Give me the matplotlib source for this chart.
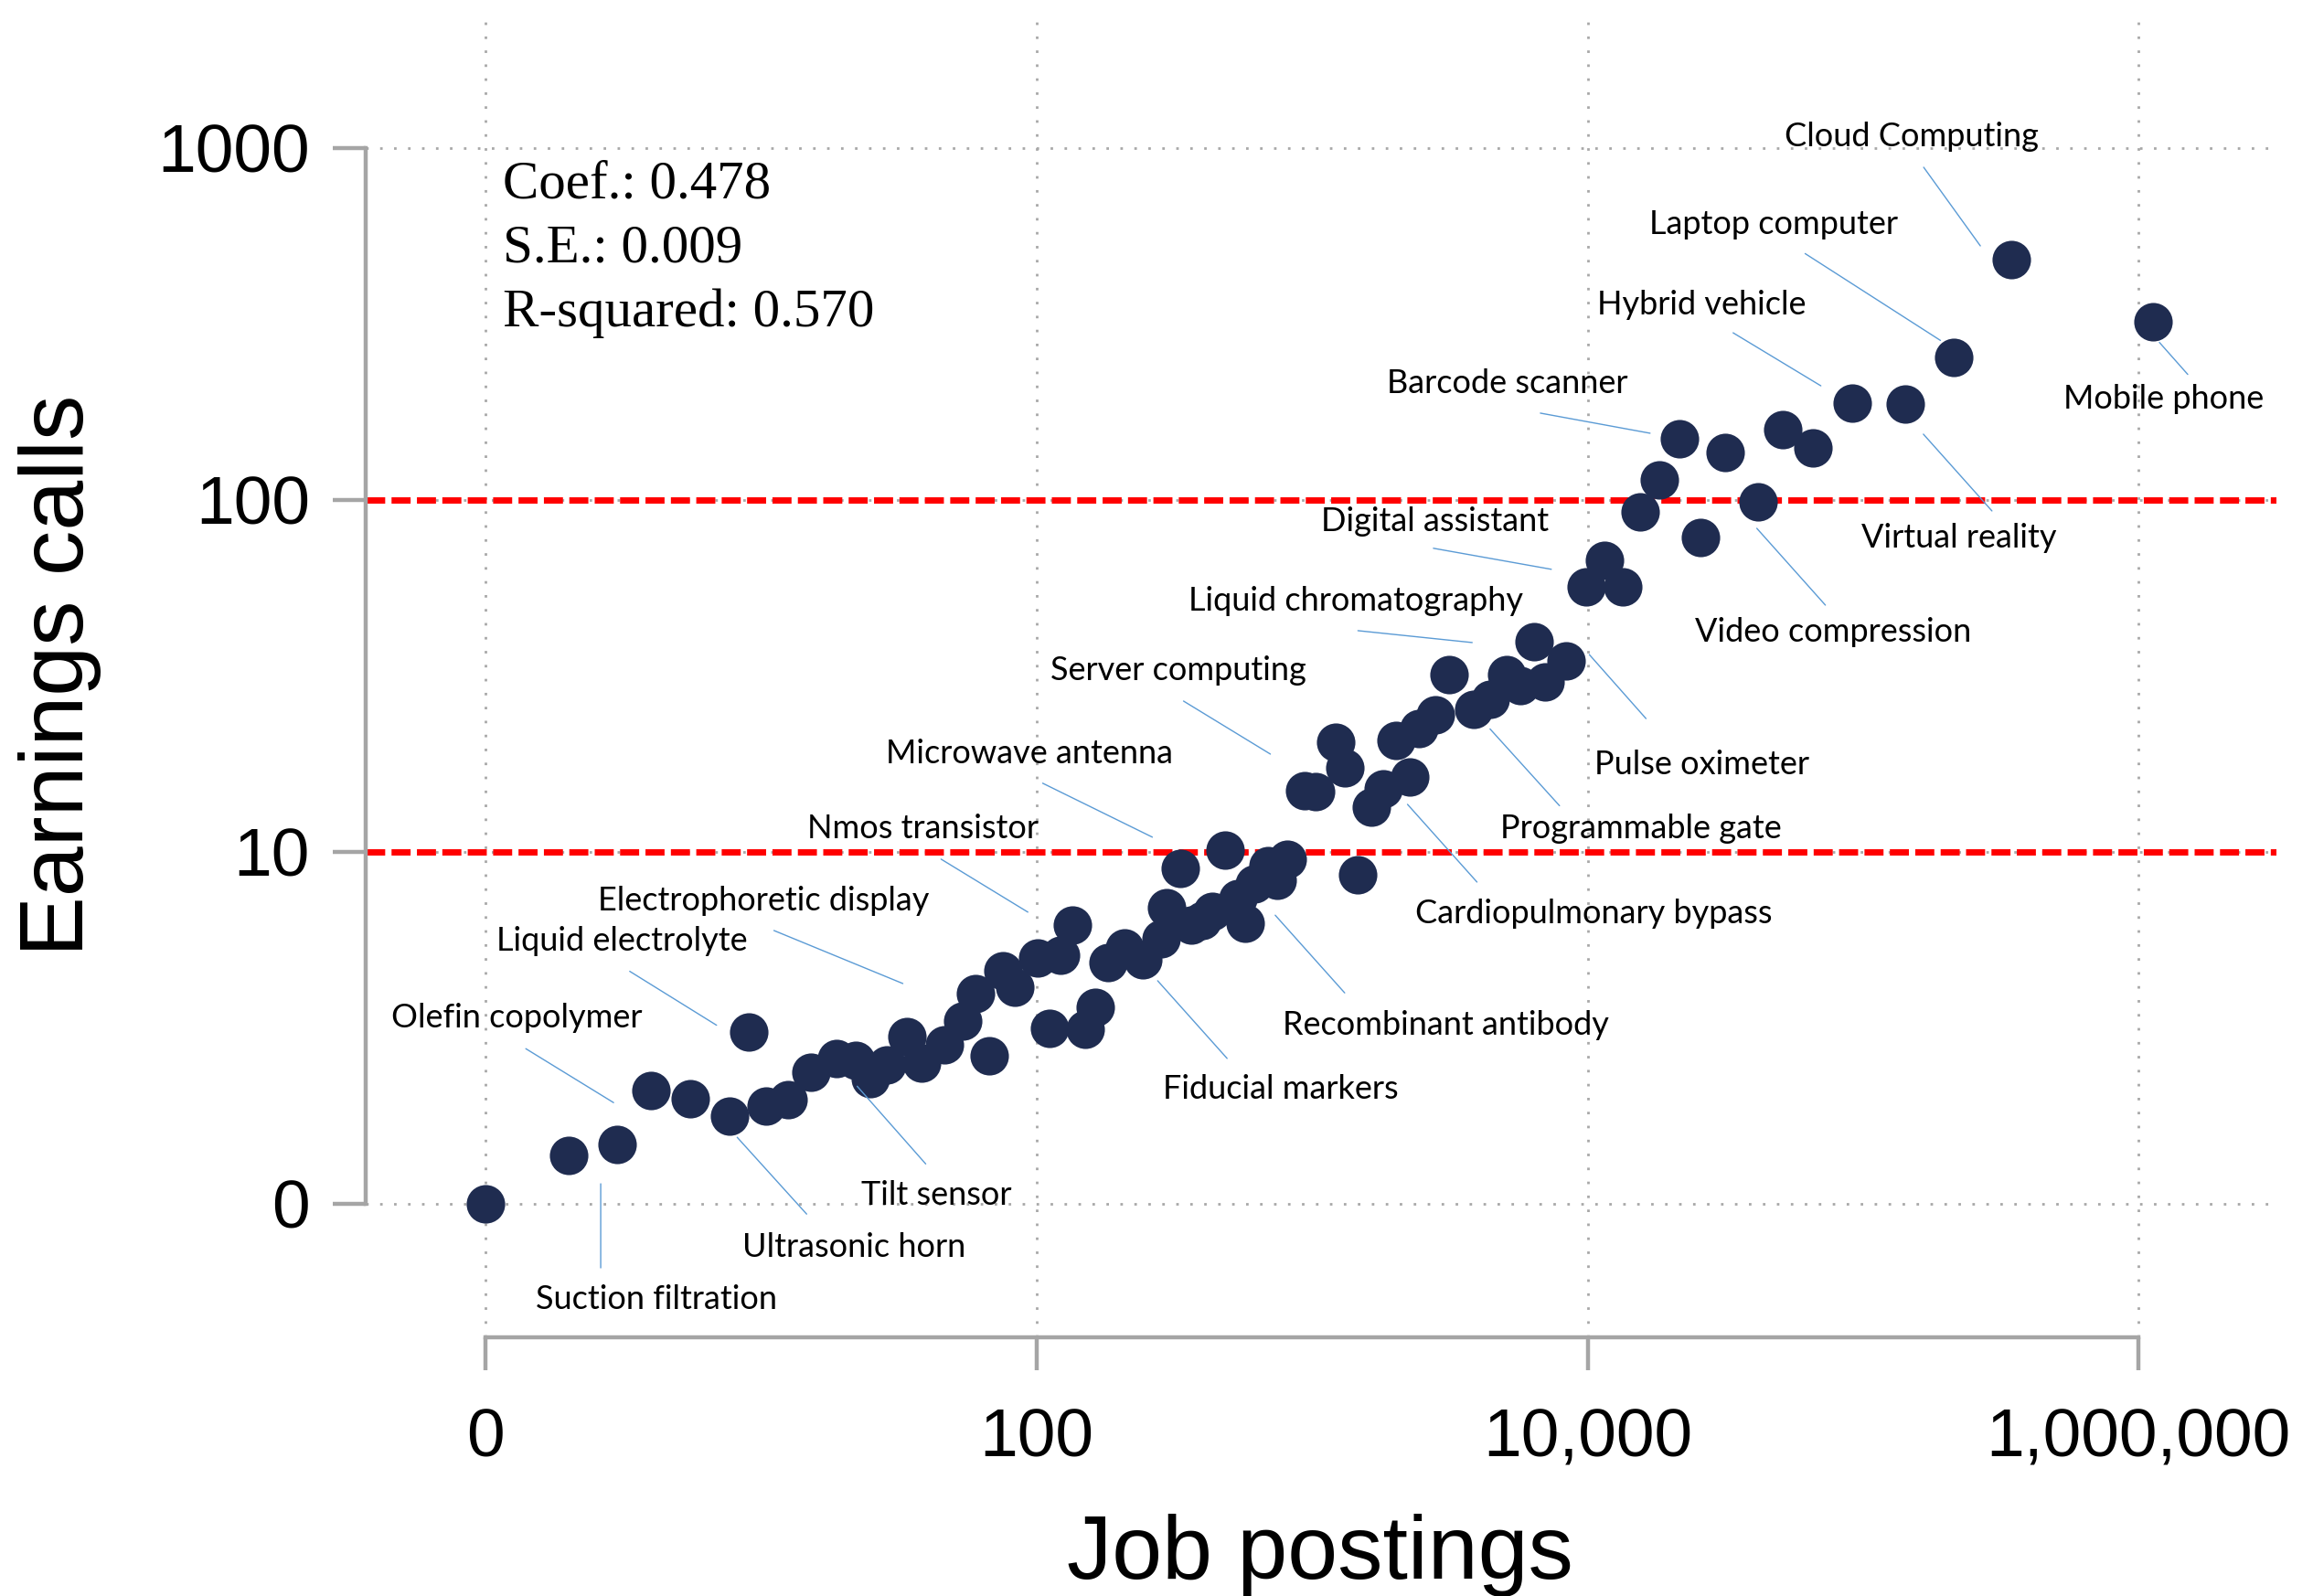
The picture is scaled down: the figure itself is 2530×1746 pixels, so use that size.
import numpy as np
import matplotlib
matplotlib.use("Agg")
from matplotlib import pyplot as plt
from matplotlib.transforms import offset_copy

# job postings and earnings calls per technology
job_postings = np.array([
    0, 1.0, 2.0, 2.98, 4.52, 6.69, 7.99, 9.38, 11.5, 14.1,
    17.7, 21.1, 23.8, 27.5, 32.7, 37.3, 45.2, 53.0, 58.7, 66.0,
    74.2, 82.2, 99.7, 121, 134, 110, 149, 162, 180, 207,
    242, 282, 296, 332, 364, 397, 434, 481, 568, 534,
    614, 688, 744, 812, 1460, 934, 1030, 1220, 1310, 1640,
    1810, 2010, 2250, 2430, 2800, 3140, 3850, 4430, 5090, 5700,
    6400, 7000, 8370, 9860, 11500, 13400, 15500, 18200, 21500, 25600,
    31600, 41400, 51000, 65800, 91000, 141900, 213800, 345100, 1127000])
earnings_calls = np.array([
    0, 0.37, 0.47, 1.10, 0.99, 0.77, 2.08, 0.89, 0.97, 1.36,
    1.58, 1.55, 1.26, 1.48, 1.99, 1.50, 1.82, 2.30, 2.95, 1.63,
    3.59, 3.12, 3.98, 4.08, 5.19, 2.15, 2.12, 2.61, 3.83, 4.33,
    3.93, 4.66, 5.92, 7.97, 5.19, 5.38, 5.78, 9.09, 5.27, 6.35,
    7.11, 8.14, 7.28, 8.51, 7.61, 13.9, 13.8, 19.5, 16.3, 12.4,
    14.1, 19.7, 15.3, 21.4, 23.5, 30.8, 24.3, 26.1, 30.8, 28.6,
    38.5, 29.3, 33.8, 55.6, 66.1, 55.6, 91.3, 113, 148, 77.0,
    135, 97.6, 157, 139, 187, 186, 252, 480, 320])

label_names = ["Cloud Computing", "Laptop computer", "Hybrid vehicle", "Mobile phone",
               "Barcode scanner", "Virtual reality", "Digital assistant", "Video compression",
               "Liquid chromatography", "Pulse oximeter", "Server computing", "Programmable gate",
               "Microwave antenna", "Cardiopulmonary bypass", "Nmos transistor",
               "Electrophoretic display", "Liquid electrolyte", "Olefin copolymer",
               "Recombinant antibody", "Fiducial markers", "Tilt sensor", "Ultrasonic horn",
               "Suction filtration"]
label_points = [77, 76, 74, 78, 68, 75, 63, 71, 60, 62, 45, 56,
                33, 52, 24, 18, 6, 2, 42, 30, 12, 5, 1]

x_ticks = [0, 100, 10000, 1000000]
x_ticklabels = ["0", "100", "10,000", "1,000,000"]
y_ticks = [0, 10, 100, 1000]
y_ticklabels = ["0", "10", "100", "1000"]
ref_lines = [10, 100]
stats = ["Coef.: 0.478", "S.E.: 0.009", "R-squared: 0.570"]

# label layout in pixels relative to the point (dx, dy down):
# text centre, leader line start, leader line end
layout = {
    "Cloud Computing": ((-109, -134), (-34, -15), (-96, -101)),
    "Laptop computer": ((-197, -146), (-15, -19), (-163, -114)),
    "Hybrid vehicle": ((-164, -108), (-34, -19), (-130, -77)),
    "Mobile phone": ((12, 85), (7, 23), (38, 58)),
    "Barcode scanner": ((-188, -60), (-32, -6), (-152, -28)),
    "Virtual reality": ((59, 147), (20, 33), (95, 117)),
    "Digital assistant": ((-165, -71), (-38, -19), (-167, -42)),
    "Video compression": ((83, 143), (-1, 29), (74, 113)),
    "Liquid chromatography": ((-195, -44), (-68, 1), (-193, -12)),
    "Pulse oximeter": ((148, 113), (25, -7), (87, 63)),
    "Server computing": ((-138, -131), (-37, -40), (-132, -98)),
    "Programmable gate": ((183, 130), (18, 21), (94, 105)),
    "Microwave antenna": ((-165, -125), (-31, -34), (-151, -93)),
    "Cardiopulmonary bypass": ((202, 150), (-2, 30), (74, 115)),
    "Nmos transistor": ((-164, -105), (-49, -14), (-144, -72)),
    "Electrophoretic display": ((-231, -101), (-79, -11), (-220, -69)),
    "Liquid electrolyte": ((-138, -99), (-35, -7), (-130, -66)),
    "Olefin copolymer": ((-110, -139), (-4, -46), (-100, -105)),
    "Recombinant antibody": ((185, 158), (-2, 38), (74, 123)),
    "Fiducial markers": ((151, 142), (16, 23), (92, 108)),
    "Tilt sensor": ((73, 127), (-14, 8), (61, 93)),
    "Ultrasonic horn": ((136, 143), (8, 23), (84, 107)),
    "Suction filtration": ((96, 157), (35, 31), (35, 123)),
}

gray = "#a5a5a5"
navy = "#1f2c50"

def pos(v):
    return np.log10(1 + np.asarray(v, dtype=float))

def tick_pos(v):
    return np.log10(np.maximum(np.asarray(v, dtype=float), 1))

fig = plt.figure(figsize=(25.3, 17.46), dpi=100)
ax = fig.add_axes([0.1581, 0.1621, 0.9842 - 0.1581, 0.9908 - 0.1621])

xs, ys = pos(job_postings), pos(earnings_calls)

ax.set_xlim(-0.436, 6.5)
ax.set_ylim(-0.38, 3.378)

ax.set_xticks(tick_pos(x_ticks))
ax.set_xticklabels(x_ticklabels, fontsize=54, family="Liberation Sans")
ax.set_yticks(tick_pos(y_ticks))
ax.set_yticklabels(y_ticklabels, fontsize=54, family="Liberation Sans")
ax.tick_params(axis="both", length=26, width=3.2, color=gray)
ax.tick_params(axis="x", pad=29)
ax.tick_params(axis="y", pad=18)

for s in ["top", "right"]:
    ax.spines[s].set_visible(False)
for s in ["left", "bottom"]:
    ax.spines[s].set_color(gray)
    ax.spines[s].set_linewidth(3.2)
ax.spines["left"].set_bounds(0, 3)
ax.spines["bottom"].set_bounds(0, 6)

ax.grid(True, color="#a8a8a8", linestyle=(0, (1, 4.5)), linewidth=2.0, zorder=0)
ax.set_axisbelow(True)

for r in ref_lines:
    ax.axhline(np.log10(r), color="red", lw=5.0, linestyle=(0, (3.0, 1.0)), zorder=2)

ax.scatter(xs, ys, s=920, color=navy, linewidths=0, zorder=3)

# labels with leader lines
for name, i in zip(label_names, label_points):
    (tx, ty), (sx, sy), (ex, ey) = layout[name]
    ax.annotate("", xy=(xs[i], ys[i]),
                xycoords=offset_copy(ax.transData, fig=fig, x=sx, y=-sy, units="dots"),
                xytext=(xs[i], ys[i]),
                textcoords=offset_copy(ax.transData, fig=fig, x=ex, y=-ey, units="dots"),
                arrowprops=dict(arrowstyle="-", color="#5b9bd5", lw=1.0,
                                shrinkA=0, shrinkB=0), zorder=4)
    ax.annotate(name, xy=(xs[i], ys[i]), xytext=(tx, -ty), textcoords="offset pixels",
                ha="center", va="center", fontsize=26, family="Lato", zorder=5)

# regression stats
for k, line in enumerate(stats):
    fig.text(550 / 2530, 1 - (216.5 + 70.3 * k) / 1746, line, fontsize=42.5,
             family="Liberation Serif", va="baseline", ha="left")

fig.text(1444 / 2530, 1 - 1727 / 1746, "Job postings", fontsize=71,
         family="Liberation Sans", ha="center", va="baseline")
fig.text(66 / 2530, 1 - 739 / 1746, "Earnings calls", fontsize=71,
         family="Liberation Sans", ha="center", va="center", rotation=90)

fig.savefig("out.png", dpi=100)
